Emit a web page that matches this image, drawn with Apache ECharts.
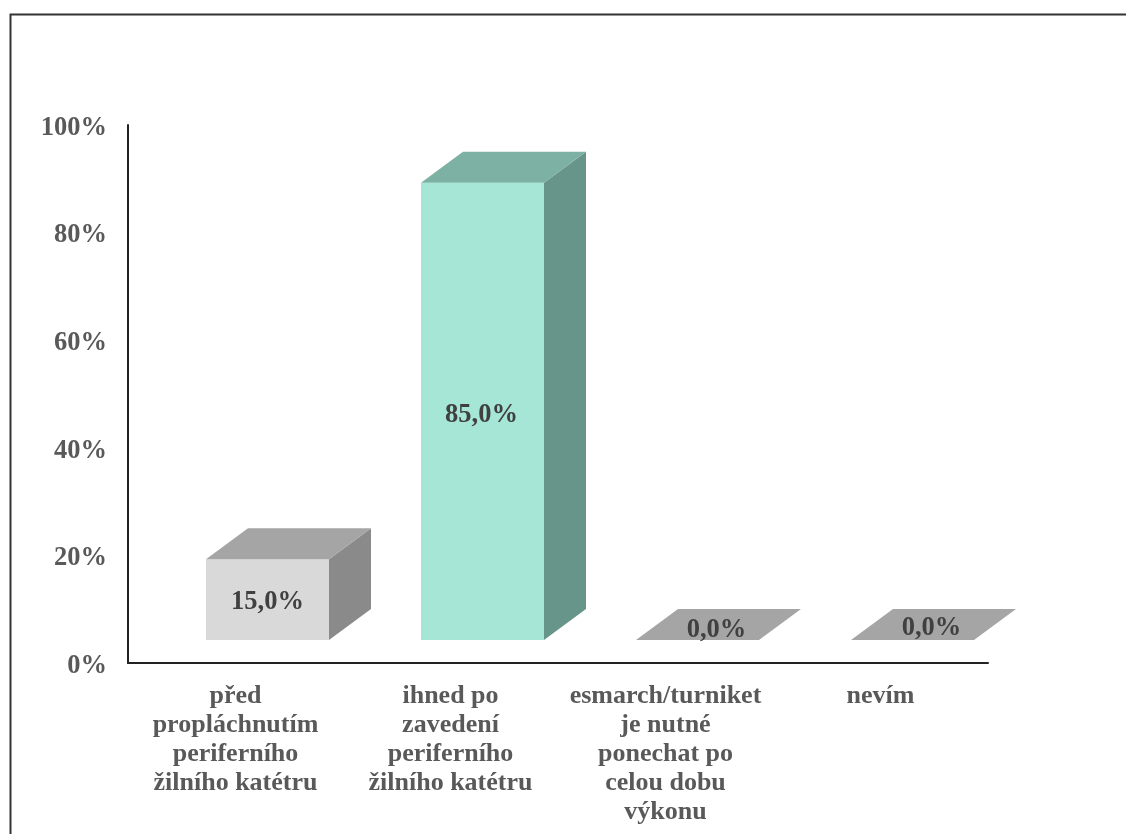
<!DOCTYPE html>
<html><head><meta charset="utf-8">
<style>html,body{margin:0;padding:0;background:#fff}#c{width:1126px;height:834px}</style>
<script src="https://cdn.jsdelivr.net/npm/echarts@6/dist/echarts.min.js"></script>
</head><body><div id="c"></div>
<script>
const categories = ['před\npropláchnutím\nperiferního\nžilního katétru','ihned po\nzavedení\nperiferního\nžilního katétru','esmarch/turniket\nje nutné\nponechat po\ncelou dobu\nvýkonu','nevím'];
const values = [15, 85, 0, 0];
const valueLabels = ['15,0%','85,0%','0,0%','0,0%'];
const frontColors = ['#d9d9d9','#a6e6d6','#d9d9d9','#d9d9d9'];
const topColors = ['#a5a5a5','#7cb1a3','#a5a5a5','#a5a5a5'];
const sideColors = ['#8a8a8a','#68958a','#8a8a8a','#8a8a8a'];
const FONT = '"Liberation Serif","Times New Roman",serif';
const chart = echarts.init(document.getElementById('c'), null, {renderer:'canvas'});
const depthX = 42, depthY = 31, liftY = 23, shiftX = 32, barW = 123;
chart.setOption({
  animation:false,
  backgroundColor:'#fff',
  grid:{left:128,top:125,width:860,height:538,containLabel:false},
  graphic:[{type:'polyline',silent:true,shape:{points:[[10.5,834],[10.5,14.5],[1126,14.5]]},style:{stroke:'#333',lineWidth:2,fill:null}}],
  xAxis:{type:'category',data:categories,boundaryGap:true,
    axisLine:{lineStyle:{color:'#222',width:2}},axisTick:{show:false},splitLine:{show:false},
    axisLabel:{interval:0,color:'#595959',fontFamily:FONT,fontWeight:'bold',fontSize:26,lineHeight:29,margin:19}},
  yAxis:{type:'value',min:0,max:100,interval:20,
    axisLine:{show:true,lineStyle:{color:'#222',width:2}},axisTick:{show:false},splitLine:{show:false},
    axisLabel:{formatter:'{value}%',color:'#595959',fontFamily:FONT,fontWeight:'bold',fontSize:26.5,margin:21,verticalAlign:'top',lineHeight:6}},
  series:[{type:'custom',data:values.map((v,i)=>[i,v]),encode:{x:0,y:1},clip:false,
    renderItem(params,api){
      const i=api.value(0), v=api.value(1);
      const base=api.coord([i,0]), top=api.coord([i,v]);
      const x0=base[0]+shiftX-barW/2, x1=x0+barW, yb=base[1]-liftY, yt=top[1]-liftY;
      const kids=[];
      if(v>0){
        kids.push({type:'rect',shape:{x:x0,y:yt,width:barW,height:yb-yt},style:{fill:frontColors[i]}});
        kids.push({type:'polygon',shape:{points:[[x1,yb],[x1,yt],[x1+depthX,yt-depthY],[x1+depthX,yb-depthY]]},style:{fill:sideColors[i]}});
      }
      kids.push({type:'polygon',shape:{points:[[x0,yt],[x1,yt],[x1+depthX,yt-depthY],[x0+depthX,yt-depthY]]},style:{fill:topColors[i]}});
      const tx=(v>0)?x0+barW/2-(i==1?1:0):x0+barW/2+(i==3?19:0)+(i==2?19:0);
      const ty=(v>0)?(i==0?602:415):(i==2?630:628);
      kids.push({type:'text',style:{text:valueLabels[i],x:tx,y:ty,align:'center',verticalAlign:'middle',fill:'#404040',font:'bold 26.5px '+FONT}});
      return {type:'group',children:kids};
    }}]
});
</script></body></html>
